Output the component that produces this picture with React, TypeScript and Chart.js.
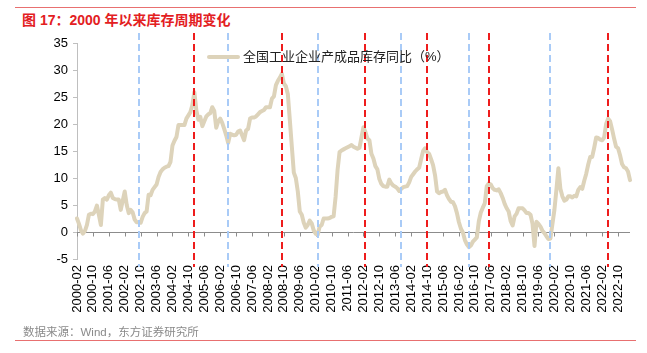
import React, { useEffect, useRef } from "react";
import { Chart, registerables } from "chart.js";

Chart.register(...registerables);

// ---- Data ----
const startYear = 2000;
const startMonth = 2; // Feb 2000
const monthCount = 279; // through 2023-04

const months: string[] = [];
for (let i = 0; i < monthCount; i++) {
  const m = startMonth - 1 + i;
  const y = startYear + Math.floor(m / 12);
  const mm = (m % 12) + 1;
  months.push(`${y}-${String(mm).padStart(2, "0")}`);
}

const seriesName = "全国工业企业产成品库存同比（%）";

const inventoryYoY: number[] = [
  2.5, 1.5, 0.3, -0.3, 0.2, 1.3, 3.2, 3.4, 3.3, 3.8,
  4.9, 3.2, 1.3, 6.0, 6.3, 6.0, 6.8, 7.3, 6.3, 6.1,
  6.0, 6.0, 4.1, 5.8, 7.5, 5.0, 3.5, 4.1, 3.6, 2.3,
  1.8, 1.8, 1.7, 2.8, 3.5, 3.8, 6.9, 6.8, 7.8, 8.3,
  8.8, 10.2, 11.1, 11.6, 11.9, 12.1, 12.2, 13.0, 16.0, 16.9,
  17.6, 19.8, 19.8, 19.8, 19.8, 21.0, 21.6, 22.2, 23.5, 25.9,
  22.5, 20.8, 21.3, 19.6, 20.5, 21.4, 21.8, 22.0, 23.1, 22.4,
  19.3, 20.5, 21.0, 20.2, 19.1, 17.9, 16.5, 18.2, 18.0, 17.9,
  18.0, 18.6, 18.8, 17.9, 17.0, 18.8, 19.1, 21.0, 21.2, 21.2,
  21.4, 21.8, 22.2, 22.4, 22.6, 23.1, 23.1, 23.1, 24.7, 25.1,
  27.2, 28.0, 28.6, 29.3, 27.5, 27.0, 25.5, 20.7, 15.8, 11.0,
  10.0, 7.5, 3.8, 3.2, 1.7, 0.8, 1.3, 2.1, 1.6, 0.3,
  -0.3, -0.5, 1.0, 1.3, 2.5, 2.5, 2.5, 2.6, 2.8, 2.9,
  6.5, 11.5, 14.8, 15.1, 15.3, 15.5, 15.7, 15.9, 16.1, 15.8,
  15.6, 15.4, 15.6, 17.5, 19.4, 18.5, 17.3, 17.0, 14.5, 13.6,
  12.2, 11.6, 9.8, 8.9, 8.5, 8.4, 8.4, 9.7, 9.0, 8.6,
  8.4, 8.1, 7.6, 8.0, 8.3, 8.4, 8.5, 9.2, 10.2, 10.7,
  11.2, 11.6, 11.9, 13.5, 15.0, 15.5, 14.8, 14.5, 13.5, 12.4,
  10.5, 7.5, 7.2, 7.4, 7.5, 7.8, 6.8, 6.1, 5.6, 5.5,
  4.8, 3.5, 1.8, 0.6, -0.1, -1.5, -2.3, -2.8, -2.5, -1.8,
  -1.4, -1.0, 2.0, 3.6, 4.5, 5.3, 8.5, 9.0, 8.8, 8.1,
  7.8, 7.7, 7.9, 7.2, 6.3, 5.2, 4.4, 3.8, 2.0, 1.2,
  2.9, 3.4, 4.4, 4.4, 4.4, 4.0, 3.5, 3.5, 3.2, 1.5,
  -2.6, 1.9, 1.5, 1.0, 0.2, -0.2, -0.8, -1.3, -1.2, 1.5,
  4.1, 7.8, 11.8, 8.0, 6.6, 5.8, 6.0, 6.6, 6.6, 6.4,
  6.7, 6.6, 7.8, 8.3, 8.0, 9.5, 10.8, 12.5, 13.9, 13.9,
  15.6, 17.5, 17.4, 17.1, 17.0, 17.5, 20.0, 21.0, 20.5, 19.0,
  17.3, 15.8, 15.5, 14.2, 12.6, 12.0, 11.8, 11.2, 9.6,
];

// Cycle markers (months)
const peakMonths = ["2005-01", "2008-09", "2012-03", "2014-10", "2017-05", "2022-05"];
const troughMonths = ["2002-09", "2006-06", "2010-03", "2013-09", "2016-07", "2019-12"];

const labelEvery = 8;
const yMin = -5;
const yMax = 35;
const yStep = 5;

const titleText = "图 17：2000 年以来库存周期变化";
const sourceText = "数据来源：Wind，东方证券研究所";

const FONT = "'Liberation Sans', Arial, 'Noto Sans CJK SC', sans-serif";
const CJK = "'Liberation Sans', 'Noto Sans CJK SC', sans-serif";

const overlayPlugin = {
  id: "overlay",
  beforeDatasetsDraw(chart: any) {
    const { ctx, chartArea, scales } = chart;
    const x = scales.x;
    const y = scales.y;
    const y0 = Math.round(y.getPixelForValue(0)) + 0.5;
    ctx.save();
    ctx.strokeStyle = "#8c8c8c";
    ctx.lineWidth = 1;
    ctx.beginPath();
    ctx.moveTo(chartArea.left, y0);
    ctx.lineTo(chartArea.right, y0);
    for (let i = 0; i < months.length; i += labelEvery) {
      const px = Math.round(x.getPixelForValue(i)) + 0.5;
      ctx.moveTo(px, y0);
      ctx.lineTo(px, y0 + 4);
    }
    ctx.stroke();
    ctx.restore();
  },
  afterDatasetsDraw(chart: any) {
    const { ctx, chartArea, scales } = chart;
    const x = scales.x;
    const top = chartArea.top - 10;
    const bottom = chartArea.bottom + 8;
    const drawSet = (list: string[], color: string) => {
      ctx.save();
      ctx.strokeStyle = color;
      ctx.lineWidth = 2;
      ctx.setLineDash([7, 4]);
      list.forEach((m) => {
        const idx = months.indexOf(m);
        if (idx < 0) return;
        const px = Math.round(x.getPixelForValue(idx));
        ctx.beginPath();
        ctx.moveTo(px, top);
        ctx.lineTo(px, bottom);
        ctx.stroke();
      });
      ctx.restore();
    };
    drawSet(troughMonths, "#a9cbf7");
    drawSet(peakMonths, "#ee1c1c");
  },
};

export default function App() {
  const canvasRef = useRef<HTMLCanvasElement | null>(null);

  useEffect(() => {
    if (!canvasRef.current) return;
    const chart = new Chart(canvasRef.current, {
      type: "line",
      data: {
        labels: months,
        datasets: [
          {
            label: seriesName,
            data: inventoryYoY,
            borderColor: "#ddd3ba",
            borderWidth: 4,
            pointRadius: 0,
            tension: 0,
            borderJoinStyle: "round",
            borderCapStyle: "round",
            fill: false,
          },
        ],
      },
      options: {
        responsive: false,
        animation: false,
        devicePixelRatio: 1,
        layout: { padding: { left: 0, right: 17, top: 43, bottom: 0 } },
        plugins: {
          legend: { display: false },
          title: { display: false },
          tooltip: { enabled: false },
        },
        scales: {
          x: {
            type: "category",
            offset: false,
            grid: { display: false, drawTicks: false },
            border: { display: false },
            ticks: {
              autoSkip: false,
              maxRotation: 90,
              minRotation: 90,
              padding: 6,
              color: "#000",
              font: { family: FONT, size: 13 },
              callback: (_v: any, i: number) => (i % labelEvery === 0 ? months[i] : null),
            },
            afterFit: (s: any) => {
              s.height = 94;
            },
          },
          y: {
            min: yMin,
            max: yMax,
            grid: {
              display: true,
              drawOnChartArea: false,
              drawTicks: true,
              tickLength: 4,
              color: "#bfbfbf",
            },
            border: { display: true, color: "#bfbfbf", width: 1 },
            ticks: {
              stepSize: yStep,
              padding: 5,
              color: "#000",
              font: { family: FONT, size: 13 },
            },
            afterFit: (s: any) => {
              s.width = 77;
            },
          },
        },
      },
      plugins: [overlayPlugin],
    });
    return () => chart.destroy();
  }, []);

  return (
    <div
      style={{
        position: "fixed",
        left: 0,
        top: 0,
        width: 647,
        height: 353,
        background: "#fff",
        overflow: "hidden",
      }}
    >
      <div style={{ position: "absolute", left: 15, top: 7, width: 621, height: 1, background: "#e87070" }} />
      <div
        style={{
          position: "absolute",
          left: 22,
          top: 11,
          fontFamily: CJK,
          fontSize: 14,
          fontWeight: "bold",
          color: "#e3201f",
          whiteSpace: "nowrap",
          lineHeight: "18px",
        }}
      >
        {titleText}
      </div>
      <canvas
        ref={canvasRef}
        width={647}
        height={353}
        style={{ position: "absolute", left: 0, top: 0, width: 647, height: 353, display: "block" }}
      />
      <div
        style={{
          position: "absolute",
          left: 207,
          top: 55,
          width: 33,
          height: 4,
          background: "#ddd3ba",
          borderRadius: 2,
        }}
      />
      <div
        style={{
          position: "absolute",
          left: 243,
          top: 48,
          fontFamily: CJK,
          fontSize: 13,
          color: "#222",
          whiteSpace: "nowrap",
          lineHeight: "18px",
        }}
      >
        {seriesName}
      </div>
      <div
        style={{
          position: "absolute",
          left: 23,
          top: 324,
          fontFamily: CJK,
          fontSize: 11.5,
          color: "#8a8a8a",
          whiteSpace: "nowrap",
          lineHeight: "16px",
        }}
      >
        {sourceText}
      </div>
      <div style={{ position: "absolute", left: 15, top: 340, width: 621, height: 1, background: "#e87070" }} />
    </div>
  );
}
